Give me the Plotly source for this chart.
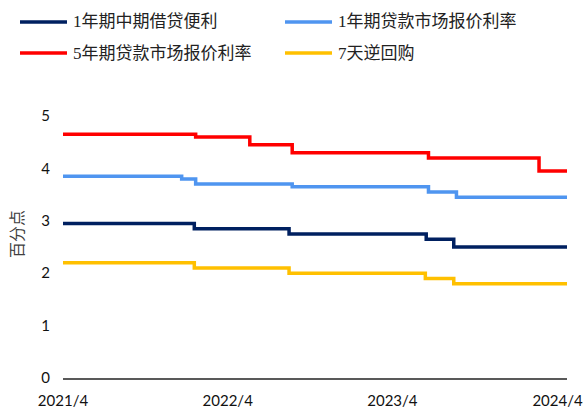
import plotly.graph_objects as go

# Policy rate series: dates at which each rate changed, and the rate in effect from that date
END_DATE = "2024-04-22"

series_names = ["1年期中期借贷便利", "1年期贷款市场报价利率", "5年期贷款市场报价利率", "7天逆回购"]

mlf_dates = ["2021-04-01", "2022-01-17", "2022-08-15", "2023-06-15", "2023-08-15"]
mlf_rates = [2.95, 2.85, 2.75, 2.65, 2.50]

lpr1_dates = ["2021-04-01", "2021-12-20", "2022-01-20", "2022-08-22", "2023-06-20", "2023-08-21"]
lpr1_rates = [3.85, 3.80, 3.70, 3.65, 3.55, 3.45]

lpr5_dates = ["2021-04-01", "2022-01-20", "2022-05-20", "2022-08-22", "2023-06-20", "2024-02-20"]
lpr5_rates = [4.65, 4.60, 4.45, 4.30, 4.20, 3.95]

rr7_dates = ["2021-04-01", "2022-01-17", "2022-08-15", "2023-06-13", "2023-08-15"]
rr7_rates = [2.20, 2.10, 2.00, 1.90, 1.80]

tick_dates = ["2021-04-01", "2022-04-01", "2023-04-01", "2024-04-01"]
tick_labels = ["2021/4", "2022/4", "2023/4", "2024/4"]

colors = ["#002060", "#4F95F0", "#FF0000", "#FFC000"]

all_dates = [mlf_dates, lpr1_dates, lpr5_dates, rr7_dates]
all_rates = [mlf_rates, lpr1_rates, lpr5_rates, rr7_rates]

fig = go.Figure()
for name, d, r, c in zip(series_names, all_dates, all_rates, colors):
    fig.add_trace(go.Scatter(
        x=d + [END_DATE], y=r + [r[-1]], name=name, mode="lines",
        line=dict(color=c, width=3.5, shape="hv"), showlegend=False,
    ))

cjk = "Liberation Serif, Noto Sans CJK SC"
num_font = "Lato, Liberation Sans, sans-serif"

# Plot area in pixels: left 63, right 567, top 116, bottom 378
PL, PW, PB, PH = 63, 504, 378, 262

# Two-column legend drawn as line samples plus text
col_x = [20, 285]
row_y = [22, 53]
for i, (name, c) in enumerate(zip(series_names, colors)):
    x0 = col_x[i % 2]
    y0 = row_y[i // 2]
    fig.add_shape(type="line", xref="paper", yref="paper",
                  x0=(x0 - PL) / PW, x1=(x0 + 47 - PL) / PW,
                  y0=(PB - y0) / PH, y1=(PB - y0) / PH,
                  line=dict(color=c, width=3.5))
    fig.add_annotation(text=name, xref="paper", yref="paper",
                       x=(x0 + 51 - PL) / PW, y=(PB - y0) / PH,
                       xanchor="left", yanchor="middle", showarrow=False,
                       font=dict(family=cjk, size=17, color="#222222"))

# Vertical y-axis title
fig.add_annotation(text="百分点", xref="paper", yref="paper",
                   x=(17 - PL) / PW, y=(PB - 234) / PH, textangle=-90,
                   xanchor="center", yanchor="middle", showarrow=False,
                   font=dict(family=cjk, size=16, color="#404040"))

fig.update_layout(
    width=584, height=408,
    margin=dict(l=63, r=17, t=116, b=30),
    paper_bgcolor="white", plot_bgcolor="white",
    xaxis=dict(
        range=["2021-04-01", END_DATE], tickvals=tick_dates, ticktext=tick_labels,
        showgrid=False, zeroline=False, showline=True, linecolor="#595959", linewidth=1.5,
        ticks="", ticklabelstandoff=8, automargin=False,
        tickfont=dict(family=num_font, size=15, color="#111111"),
    ),
    yaxis=dict(
        range=[0, 5], tickvals=[0, 1, 2, 3, 4, 5], showgrid=False, zeroline=False,
        showline=False, ticks="", ticklabelstandoff=12, automargin=False,
        tickfont=dict(family=num_font, size=15, color="#111111"),
    ),
)

fig.write_html("out.html")
